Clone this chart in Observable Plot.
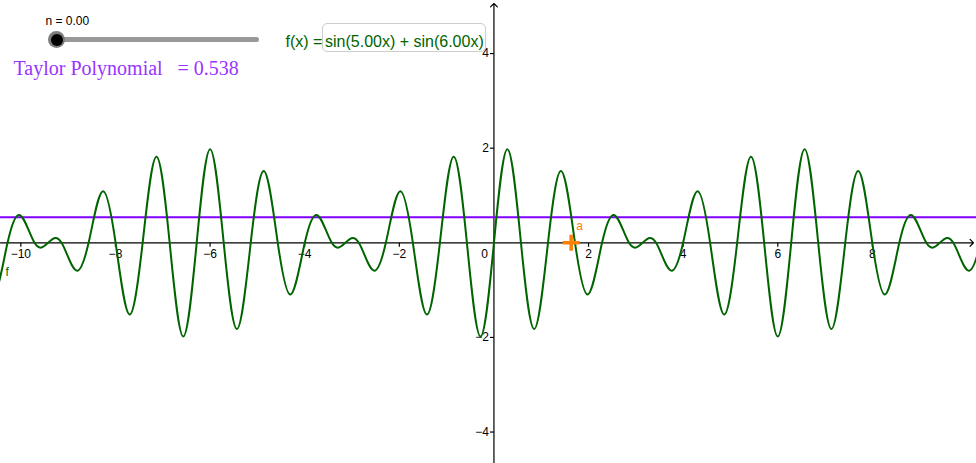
<!DOCTYPE html>
<html>
<head>
<meta charset="utf-8">
<script src="https://cdn.jsdelivr.net/npm/d3@7"></script>
<script src="https://cdn.jsdelivr.net/npm/@observablehq/plot@0.6"></script>
<style>
  html, body { margin: 0; padding: 0; background: #fff; overflow: hidden; }
  #wrap { position: relative; width: 976px; height: 463px; overflow: hidden; }
  #wrap svg { position: absolute; left: 0; top: 0; display: block; }
  .ov { position: absolute; }
</style>
</head>
<body>
<div id="wrap"></div>
<script>
// ---- data ----
// knots of f (extrema and zero crossings)
const curveX = [-10.8528,-10.5921,-10.2816,-10.0461,-9.7104,-9.5811,-9.4248,-9.2685,-9.1392,-8.8035,
  -8.5680,-8.2575,-7.9968,-7.6971,-7.4256,-7.1325,-6.8544,-6.5664,-6.2832,-5.9999,
  -5.7120,-5.4339,-5.1408,-4.8693,-4.5696,-4.3089,-3.9984,-3.7629,-3.4272,-3.2979,
  -3.1416,-2.9853,-2.8560,-2.5203,-2.2848,-1.9743,-1.7136,-1.4139,-1.1424,-0.8493,
  -0.5712,-0.2832,0,0.2832,0.5712,0.8493,1.1424,1.4139,1.7136,1.9743,
  2.2848,2.5203,2.8560,2.9853,3.1416,3.2979,3.4272,3.7629,3.9984,4.3089,
  4.5696,4.8693,5.1408,5.4339,5.7120,5.9999,6.2832,6.5664,6.8544,7.1325,
  7.4256,7.6971,7.9968,8.2575,8.5680,8.8035,9.1392,9.2685,9.4248,9.5811,
  9.7104,10.0461,10.2816,10.5921,10.8528];
const curveY = [0,-1.0915,0,0.5896,0,-0.1020,0,0.1020,0,-0.5896,
  0,1.0915,0,-1.5161,0,1.8208,0,-1.9798,0,1.9798,
  0,-1.8208,0,1.5161,0,-1.0915,0,0.5896,0,-0.1020,
  0,0.1020,0,-0.5896,0,1.0915,0,-1.5161,0,1.8208,
  0,-1.9798,0,1.9798,0,-1.8208,0,1.5161,0,-1.0915,
  0,0.5896,0,-0.1020,0,0.1020,0,-0.5896,0,1.0915,
  0,-1.5161,0,1.8208,0,-1.9798,0,1.9798,0,-1.8208,
  0,1.5161,0,-1.0915,0,0.5896,0,-0.1020,0,0.1020,
  0,-0.5896,0,1.0915,0];
const xTicks = [-10, -8, -6, -4, -2, 2, 4, 6, 8];
const yTicks = [-4, -2, 2, 4];
const originTick = [0];
const taylorValue = [0.538];
const pointAX = [1.632];
const pointAY = [0];
const pointLabels = ["a"];
const curveLabels = ["f"];
const sliderText = ["n = 0.00"];
const taylorName = ["Taylor Polynomial"];
const taylorText = ["= 0.538"];
const fxName = ["f(x) ="];
const fxText = ["sin(5.00x) + sin(6.00x)"];
const xDomain = [-10.43, 10.20];
const yDomain = [-4.665, 5.122];

// ---- build ----
const curve = curveX.map((x, i) => ({x, y: curveY[i]}));
const pointA = pointAX.map((x, i) => ({x, y: pointAY[i], label: pointLabels[i]}));
const fmt = d => d < 0 ? "\u2212" + Math.abs(d) : String(d);
const sans = "'Liberation Sans', Arial, Helvetica, sans-serif";
const serif = "'Liberation Serif', 'Times New Roman', serif";
const green = "#006400";
const purple = "#7f00ff";
const orange = "#ff7f00";

// natural cubic spline with y as a function of x (d3 curve factory)
function curveNaturalX(context) {
  let xs = [], ys = [];
  return {
    areaStart() {}, areaEnd() {},
    lineStart() { xs = []; ys = []; },
    point(x, y) { xs.push(+x); ys.push(+y); },
    lineEnd() {
      const n = xs.length;
      if (!n) return;
      context.moveTo(xs[0], ys[0]);
      if (n === 1) return;
      if (n === 2) { context.lineTo(xs[1], ys[1]); return; }
      const h = [];
      for (let i = 0; i < n - 1; i++) h.push(xs[i + 1] - xs[i]);
      const a = [], b = [], c = [], d = [];
      for (let i = 1; i < n - 1; i++) {
        a.push(h[i - 1]); b.push(2 * (h[i - 1] + h[i])); c.push(h[i]);
        d.push(6 * ((ys[i + 1] - ys[i]) / h[i] - (ys[i] - ys[i - 1]) / h[i - 1]));
      }
      const m = b.length;
      for (let i = 1; i < m; i++) { const w = a[i] / b[i - 1]; b[i] -= w * c[i - 1]; d[i] -= w * d[i - 1]; }
      const sol = new Array(m);
      sol[m - 1] = d[m - 1] / b[m - 1];
      for (let i = m - 2; i >= 0; i--) sol[i] = (d[i] - c[i] * sol[i + 1]) / b[i];
      const M = [0, ...sol, 0];
      for (let i = 0; i < n - 1; i++) {
        const hh = h[i], s = (ys[i + 1] - ys[i]) / hh;
        const m0 = s - hh * (2 * M[i] + M[i + 1]) / 6;
        const m1 = s + hh * (M[i] + 2 * M[i + 1]) / 6;
        context.bezierCurveTo(xs[i] + hh / 3, ys[i] + m0 * hh / 3, xs[i + 1] - hh / 3, ys[i + 1] - m1 * hh / 3, xs[i + 1], ys[i + 1]);
      }
    }
  };
}

const tickDown = {draw(ctx) { ctx.moveTo(0, 0); ctx.lineTo(0, 4); }};
const tickLeft = {draw(ctx) { ctx.moveTo(-4, 0); ctx.lineTo(0, 0); }};
const cross = {draw(ctx) { ctx.moveTo(-8.5, 0); ctx.lineTo(8.5, 0); ctx.moveTo(0, -8); ctx.lineTo(0, 8); }};

const chart = Plot.plot({
  width: 976,
  height: 463,
  margin: 0,
  x: {domain: xDomain, axis: null},
  y: {domain: yDomain, axis: null},
  style: {background: "white", overflow: "hidden"},
  marks: [
    Plot.arrow([{x1: xDomain[0], y1: 0, x2: xDomain[1], y2: 0}], {
      x1: "x1", y1: "y1", x2: "x2", y2: "y2", stroke: "black", strokeWidth: 1.2,
      headLength: 6, headAngle: 90, insetEnd: 3
    }),
    Plot.arrow([{x1: 0, y1: yDomain[0], x2: 0, y2: yDomain[1]}], {
      x1: "x1", y1: "y1", x2: "x2", y2: "y2", stroke: "black", strokeWidth: 1.2,
      headLength: 6, headAngle: 90, insetEnd: 3
    }),
    Plot.dot(xTicks, {x: d => d, y: 0, symbol: tickDown, stroke: "black", fill: "none", strokeWidth: 1.2}),
    Plot.dot(yTicks, {x: 0, y: d => d, symbol: tickLeft, stroke: "black", fill: "none", strokeWidth: 1.2}),
    Plot.text(xTicks, {x: d => d, y: 0, text: fmt, dy: 11, fontSize: 12, fontFamily: sans, fill: "black"}),
    Plot.text(yTicks, {x: 0, y: d => d, text: fmt, dx: -5, textAnchor: "end", fontSize: 12, fontFamily: sans, fill: "black"}),
    Plot.text(originTick, {x: 0, y: 0, text: fmt, dx: -6, dy: 11, textAnchor: "end", fontSize: 12, fontFamily: sans, fill: "black"}),
    Plot.ruleY(taylorValue, {stroke: purple, strokeWidth: 2}),
    Plot.line(curve, {x: "x", y: "y", stroke: green, strokeWidth: 2, curve: curveNaturalX, clip: true}),
    Plot.dot(pointA, {x: "x", y: "y", symbol: cross, stroke: orange, fill: "none", strokeWidth: 3.5}),
    Plot.text(pointA, {x: "x", y: "y", text: "label", dx: 5, dy: -17, textAnchor: "start", fontSize: 12, fontFamily: sans, fill: orange}),
    Plot.text(curveLabels, {frameAnchor: "top-left", dx: 5, dy: 275, lineAnchor: "bottom", textAnchor: "start", fontSize: 12, fontFamily: sans, fill: green}),
    Plot.text(sliderText, {frameAnchor: "top-left", dx: 45, dy: 24, lineAnchor: "bottom", textAnchor: "start", fontSize: 12, fontFamily: sans, fill: "black"}),
    Plot.text(taylorName, {frameAnchor: "top-left", dx: 13, dy: 74.5, lineAnchor: "bottom", textAnchor: "start", fontSize: 20, fontFamily: serif, fill: "#9933ff"}),
    Plot.text(taylorText, {frameAnchor: "top-left", dx: 177, dy: 74.5, lineAnchor: "bottom", textAnchor: "start", fontSize: 20, fontFamily: serif, fill: "#9933ff"}),
    Plot.text(fxName, {frameAnchor: "top-left", dx: 285, dy: 46.5, lineAnchor: "bottom", textAnchor: "start", fontSize: 16, fontFamily: sans, fill: green}),
    Plot.text(fxText, {frameAnchor: "top-left", dx: 324.5, dy: 46.5, lineAnchor: "bottom", textAnchor: "start", fontSize: 16, fontFamily: sans, fill: green})
  ]
});

const wrap = document.getElementById("wrap");
wrap.appendChild(chart);

// GeoGebra-like widgets: input box and slider
function div(style) {
  const d = document.createElement("div");
  d.className = "ov";
  d.setAttribute("style", style);
  wrap.appendChild(d);
  return d;
}
div("left:322px;top:23px;width:164px;height:29px;border:1px solid #cdcdcd;border-radius:5px;box-sizing:border-box;background:transparent;");
div("left:52px;top:37.2px;width:207px;height:4.6px;background:#999;border-radius:3px;");
div("left:48px;top:31px;width:17px;height:17px;border-radius:50%;background:#7d7d7d;");
div("left:50.5px;top:33.5px;width:12px;height:12px;border-radius:50%;background:#000;");
</script>
</body>
</html>
